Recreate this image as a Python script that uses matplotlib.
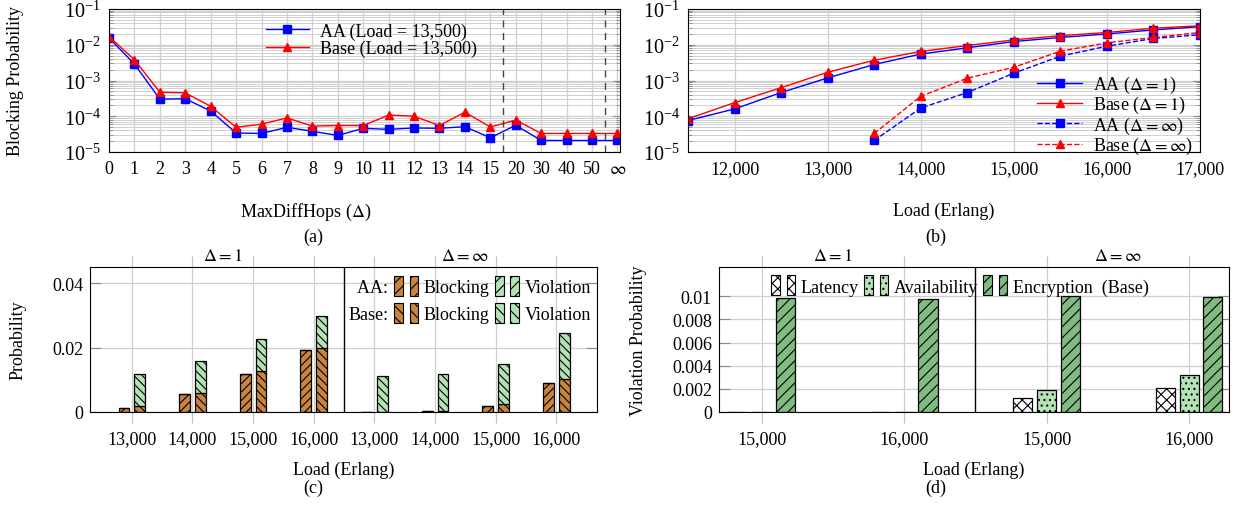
import numpy as np
import matplotlib
matplotlib.use('Agg')
import matplotlib.pyplot as plt
import matplotlib.ticker as mticker
import matplotlib.transforms as mtransforms
from matplotlib.patches import Patch, Rectangle
from matplotlib.legend_handler import HandlerBase

plt.rcParams['font.family'] = ['Liberation Serif', 'DejaVu Serif']
plt.rcParams['mathtext.fontset'] = 'stix'
plt.rcParams['font.size'] = 13
plt.rcParams['hatch.linewidth'] = 0.8

# (a) blocking vs MaxDiffHops at load 13,500
hop_labels = ['0', '1', '2', '3', '4', '5', '6', '7', '8', '9', '10', '11', '12', '13',
              '14', '15', '20', '30', '40', '50', r'$\infty$']
aa_hops = [1.55e-2, 2.9e-3, 3.0e-4, 3.1e-4, 1.4e-4, 3.4e-5, 3.3e-5, 4.9e-5, 3.8e-5, 2.9e-5,
           4.6e-5, 4.3e-5, 4.7e-5, 4.6e-5, 5.1e-5, 2.5e-5, 5.6e-5, 2.1e-5, 2.1e-5, 2.1e-5, 2.1e-5]
base_hops = [1.7e-2, 3.8e-3, 4.7e-4, 4.5e-4, 1.9e-4, 4.9e-5, 6.0e-5, 9.0e-5, 5.3e-5, 5.5e-5,
             5.5e-5, 1.08e-4, 1.0e-4, 5.5e-5, 1.3e-4, 5.0e-5, 7.8e-5, 3.3e-5, 3.3e-5, 3.3e-5, 3.3e-5]

# (b) blocking vs load
loads = [11500, 12000, 12500, 13000, 13500, 14000, 14500, 15000, 15500, 16000, 16500, 17000]
aa_d1 = [7.6e-5, 1.6e-4, 4.6e-4, 1.18e-3, 2.8e-3, 5.5e-3, 8.2e-3, 1.23e-2, 1.6e-2, 2.0e-2, 2.6e-2, 3.2e-2]
base_d1 = [8.5e-5, 2.4e-4, 6.3e-4, 1.7e-3, 3.7e-3, 6.5e-3, 9.5e-3, 1.37e-2, 1.8e-2, 2.2e-2, 2.9e-2, 3.4e-2]
loads_inf = [13500, 14000, 14500, 15000, 15500, 16000, 16500, 17000]
aa_inf = [2.1e-5, 1.7e-4, 4.6e-4, 1.6e-3, 4.8e-3, 9.1e-3, 1.5e-2, 1.9e-2]
base_inf = [3.3e-5, 3.6e-4, 1.16e-3, 2.35e-3, 6.6e-3, 1.13e-2, 1.6e-2, 2.2e-2]

# (c) blocking + violation, delta=1 then delta=inf
c_loads = ['13,000', '14,000', '15,000', '16,000']
aa_block_d1 = [0.0012, 0.0056, 0.0117, 0.0194]
aa_viol_d1 = [0.0, 0.0, 0.0, 0.0]
base_block_d1 = [0.0019, 0.0060, 0.0127, 0.0200]
base_viol_d1 = [0.0098, 0.0098, 0.0099, 0.0100]
aa_block_dinf = [0.00002, 0.0002, 0.0019, 0.0090]
aa_viol_dinf = [0.0, 0.0, 0.0, 0.0]
base_block_dinf = [0.0, 0.0004, 0.0026, 0.0104]
base_viol_dinf = [0.0113, 0.0114, 0.0123, 0.0142]

# (d) violation breakdown (Base)
d_loads = ['15,000', '16,000']
lat_d1 = [0.0, 0.0]
avail_d1 = [0.0, 0.0]
enc_d1 = [0.00986, 0.0098]
lat_dinf = [0.0012, 0.00207]
avail_dinf = [0.00193, 0.00316]
enc_dinf = [0.01003, 0.00994]

ORANGE = '#c98540'
LGREEN = '#b5e2b5'
GREEN = '#82bb82'
GRID = '#cfcfcf'
TICKC = '#8a8a8a'

W, H = 1234, 510


def box(l, r, t, b):
    return [l / W, 1 - b / H, (r - l) / W, (b - t) / H]


class TwoBars(HandlerBase):
    def create_artists(self, legend, orig, xd, yd, width, height, fontsize, trans):
        bw = width * 0.36
        out = []
        for x0 in (0, width - bw):
            r = Rectangle((x0 - xd, -yd - 0.3 * height), bw, 1.6 * height,
                          facecolor=orig.get_facecolor(), edgecolor='black',
                          hatch=orig.get_hatch(), lw=0.8, transform=trans)
            out.append(r)
        return out


class NoHandle(HandlerBase):
    def create_artists(self, legend, orig, xd, yd, width, height, fontsize, trans):
        r = Rectangle((-xd, -yd), width, height, visible=False, transform=trans)
        return [r]


def log_axis(ax):
    ax.set_yscale('log')
    ax.set_ylim(1e-5, 1e-1)
    ax.yaxis.set_major_locator(mticker.LogLocator(base=10, numticks=10))
    ax.yaxis.set_minor_locator(mticker.LogLocator(base=10, subs=np.arange(2, 10), numticks=10))
    ax.yaxis.set_minor_formatter(mticker.NullFormatter())
    ax.grid(True, which='major', color=GRID, lw=0.9)
    ax.grid(True, which='minor', axis='y', color=GRID, lw=0.7)
    ax.tick_params(axis='y', which='both', direction='in', left=True, right=True, color=TICKC)
    ax.tick_params(axis='y', which='major', length=5, labelsize=14.5, pad=6)
    ax.tick_params(axis='y', which='minor', length=3)
    ax.tick_params(axis='x', length=0, pad=6)
    ax.set_axisbelow(True)


fig = plt.figure(figsize=(12.34, 5.10), dpi=100)

# ---- (a)
ax = fig.add_axes(box(109, 620, 10, 153))
x = np.arange(len(hop_labels))
ax.plot(x, aa_hops, '-s', color='#0000ff', ms=6, lw=1.0, label='AA (Load = 13,500)')
ax.plot(x, base_hops, '-^', color='#ff0000', ms=6, lw=1.0, label='Base (Load = 13,500)')
log_axis(ax)
ax.set_xlim(0, 20.1)
ax.set_xticks(x)
ax.set_xticklabels(hop_labels)
for xv in (15.5, 19.5):
    ax.axvline(xv, color='#444444', ls=(0, (5, 4)), lw=1.0)
ax.legend(loc='upper left', bbox_to_anchor=(0.28, 1.0), frameon=False, handlelength=2.4,
          labelspacing=0.0, borderpad=0.25, handletextpad=0.6)
ax.set_ylabel('Blocking Probability', va='center')
ax.yaxis.set_label_coords((16 - 109) / 511, 0.5)
ax.set_xlabel(r'MaxDiffHops ($\Delta$)', va='center')
ax.xaxis.set_label_coords((306 - 109) / 511, (153 - 212) / 143)
fig.text(313 / W, 1 - 237 / H, '(a)', ha='center', va='center')

# ---- (b)
ax = fig.add_axes(box(688, 1200, 10, 153))
ax.plot(loads, aa_d1, '-s', color='#0000ff', ms=6, lw=1.0, label=r'AA ($\Delta = 1$)')
ax.plot(loads, base_d1, '-^', color='#ff0000', ms=6, lw=1.0, label=r'Base ($\Delta = 1$)')
ax.plot(loads_inf, aa_inf, '--s', color='#0000ff', ms=6, lw=1.0, label=r'AA ($\Delta = \infty$)')
ax.plot(loads_inf, base_inf, '--^', color='#ff0000', ms=6, lw=1.0, label=r'Base ($\Delta = \infty$)')
log_axis(ax)
ax.set_xlim(11500, 17000)
ax.set_xticks([12000, 13000, 14000, 15000, 16000, 17000])
ax.xaxis.set_major_formatter(mticker.FuncFormatter(lambda v, p: '{:,}'.format(int(v))))
ax.legend(loc='lower right', bbox_to_anchor=(0.99, -0.04), frameon=False, handlelength=2.5,
          labelspacing=-0.05, borderpad=0.1, borderaxespad=0.0, handletextpad=0.6)
ax.set_xlabel('Load (Erlang)', va='center')
ax.xaxis.set_label_coords(0.5, (153 - 211) / 143)
fig.text(936 / W, 1 - 237 / H, '(b)', ha='center', va='center')


def bar_axes_style(ax, yticks, ylabels):
    ax.set_yticks(yticks)
    ax.set_yticklabels(ylabels)
    ax.grid(True, color=GRID, lw=0.9)
    ax.set_axisbelow(True)
    ax.tick_params(axis='x', direction='out', top=True, bottom=True, length=8,
                   color='#c4c4c4', width=0.9, pad=5)
    ax.tick_params(axis='y', direction='in', left=True, right=True, length=8,
                   color=TICKC, pad=5)


# ---- (c)
ax = fig.add_axes(box(90, 597, 268, 413))
pos = np.arange(8)
aa_block = np.concatenate([aa_block_d1, aa_block_dinf])
aa_viol = np.concatenate([aa_viol_d1, aa_viol_dinf])
base_block = np.concatenate([base_block_d1, base_block_dinf])
base_viol = np.concatenate([base_viol_d1, base_viol_dinf])
bw = 0.18
ax.bar(pos - 0.13, aa_block, bw, color=ORANGE, edgecolor='black', lw=0.9, hatch='////')
ax.bar(pos - 0.13, aa_viol, bw, bottom=aa_block, color=LGREEN, edgecolor='black', lw=0.9, hatch='////')
ax.bar(pos + 0.13, base_block, bw, color=ORANGE, edgecolor='black', lw=0.9, hatch='\\\\\\\\')
ax.bar(pos + 0.13, base_viol, bw, bottom=base_block, color=LGREEN, edgecolor='black', lw=0.9,
       hatch='\\\\\\\\')
ax.axvline(3.5, color='black', lw=1.0)
ax.set_xlim(-0.69, 7.67)
ax.set_ylim(0, 0.0451)
ax.set_xticks(pos)
ax.set_xticklabels(c_loads + c_loads)
bar_axes_style(ax, [0, 0.02, 0.04], ['0', '0.02', '0.04'])
trans = mtransforms.blended_transform_factory(ax.transData, ax.transAxes)
ax.text(1.5, 1 + 11 / 145, r'$\Delta = 1$', transform=trans, ha='center', va='center')
ax.text(5.5, 1 + 11 / 145, r'$\Delta = \infty$', transform=trans, ha='center', va='center')
hdr_aa, hdr_base = Patch(), Patch()
h_aa_b = Patch(facecolor=ORANGE, hatch='///')
h_base_b = Patch(facecolor=ORANGE, hatch='\\\\\\')
h_aa_v = Patch(facecolor=LGREEN, hatch='///')
h_base_v = Patch(facecolor=LGREEN, hatch='\\\\\\')
hm = {hdr_aa: NoHandle(), hdr_base: NoHandle(), h_aa_b: TwoBars(), h_base_b: TwoBars(),
      h_aa_v: TwoBars(), h_base_v: TwoBars()}
ax.legend([hdr_aa, hdr_base, h_aa_b, h_base_b, h_aa_v, h_base_v],
          ['  AA:', 'Base:', 'Blocking', 'Blocking', 'Violation', 'Violation'],
          handler_map=hm, ncol=3, loc='upper right', bbox_to_anchor=(1.0, 1 - 6 / 145),
          frameon=False, handlelength=1.33, handletextpad=0.3, columnspacing=0.3,
          labelspacing=0.55, borderpad=0.35, borderaxespad=0.0)
ax.set_ylabel('Probability', va='center')
ax.yaxis.set_label_coords((18 - 90) / 507, 0.5)
ax.set_xlabel('Load (Erlang)', va='center')
ax.xaxis.set_label_coords(0.5, (413 - 470) / 145)
fig.text(313 / W, 1 - 488 / H, '(c)', ha='center', va='center')

# ---- (d)
ax = fig.add_axes(box(719, 1229, 268, 413))
pos = np.arange(4)
lat = np.concatenate([lat_d1, lat_dinf])
avail = np.concatenate([avail_d1, avail_dinf])
enc = np.concatenate([enc_d1, enc_dinf])
bw = 0.134
ax.bar(pos - 0.167, lat, bw, color='white', edgecolor='black', lw=0.9, hatch='xxx')
ax.bar(pos, avail, bw, color=LGREEN, edgecolor='black', lw=0.9, hatch='...')
ax.bar(pos + 0.167, enc, bw, color=GREEN, edgecolor='black', lw=0.9, hatch='///')
ax.axvline(1.5, color='black', lw=1.0)
ax.set_xlim(-0.30, 3.28)
ax.set_ylim(0, 0.01253)
ax.set_xticks(pos)
ax.set_xticklabels(d_loads + d_loads)
bar_axes_style(ax, [0, 0.002, 0.004, 0.006, 0.008, 0.01],
               ['0', '0.002', '0.004', '0.006', '0.008', '0.01'])
trans = mtransforms.blended_transform_factory(ax.transData, ax.transAxes)
ax.text(0.5, 1 + 11 / 145, r'$\Delta = 1$', transform=trans, ha='center', va='center')
ax.text(2.5, 1 + 11 / 145, r'$\Delta = \infty$', transform=trans, ha='center', va='center')
h_lat = Patch(facecolor='white', hatch='xxx')
h_av = Patch(facecolor=LGREEN, hatch='...')
h_enc = Patch(facecolor=GREEN, hatch='///')
ax.legend([h_lat, h_av, h_enc], ['Latency', 'Availability', 'Encryption  (Base)'],
          handler_map={h_lat: TwoBars(), h_av: TwoBars(), h_enc: TwoBars()},
          ncol=3, loc='upper left', bbox_to_anchor=(0.09, 1 - 5 / 145), frameon=False,
          handlelength=1.33, handletextpad=0.3, columnspacing=0.3,
          borderpad=0.35, borderaxespad=0.0)
ax.set_ylabel('Violation Probability', va='center')
ax.yaxis.set_label_coords((638 - 719) / 510, 0.5)
ax.set_xlabel('Load (Erlang)', va='center')
ax.xaxis.set_label_coords(0.5, (413 - 470) / 145)
fig.text(936 / W, 1 - 488 / H, '(d)', ha='center', va='center')

fig.savefig('out.png', dpi=100)
